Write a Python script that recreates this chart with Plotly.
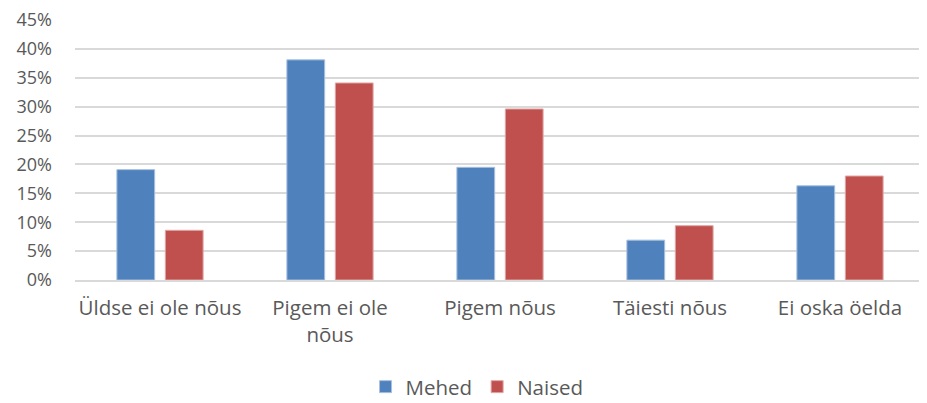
import plotly.graph_objects as go

# Survey answers by gender (share of respondents)
categories = ['Üldse ei ole nõus', 'Pigem ei ole<br>nõus', 'Pigem nõus', 'Täiesti nõus', 'Ei oska öelda']
mehed = [0.191, 0.381, 0.195, 0.069, 0.163]
naised = [0.086, 0.341, 0.296, 0.094, 0.180]
y_ticks = [0, 0.05, 0.10, 0.15, 0.20, 0.25, 0.30, 0.35, 0.40, 0.45]

font_family = 'Open Sans'
text_color = '#595959'

fig = go.Figure()
fig.add_trace(go.Bar(x=categories, y=mehed, name='Mehed',
                     marker=dict(color='#4f81bd', line=dict(color='#a7c0de', width=1))))
fig.add_trace(go.Bar(x=categories, y=naised, name='Naised',
                     marker=dict(color='#c0504d', line=dict(color='#e0a7a6', width=1))))

# the page body adds an 8px margin, so the figure is a bit smaller than the window
fig.update_layout(
    width=919, height=395,
    margin=dict(l=67, r=2, t=12, b=123),
    paper_bgcolor='white', plot_bgcolor='white',
    font=dict(family=font_family, size=20.5, color=text_color),
    barmode='group', bargap=0.43, bargroupgap=0.22,
    legend=dict(orientation='h', x=0.473, xanchor='center',
                yref='container', y=0.041, yanchor='middle',
                font=dict(size=20.5, color=text_color), itemwidth=30),
    showlegend=True,
)
fig.update_yaxes(range=[0, 0.45], tickvals=y_ticks, tickformat='.0%',
                 tickfont=dict(size=18), ticklabeloverflow='allow',
                 showgrid=True, gridcolor='#d9d9d9', gridwidth=1.5,
                 zeroline=False, showline=False, ticklabelstandoff=22,
                 automargin=False)
fig.update_xaxes(showline=True, linecolor='#d9d9d9', linewidth=1.5,
                 ticks='', ticklabelstandoff=9, automargin=False)

fig.write_html("out.html")
